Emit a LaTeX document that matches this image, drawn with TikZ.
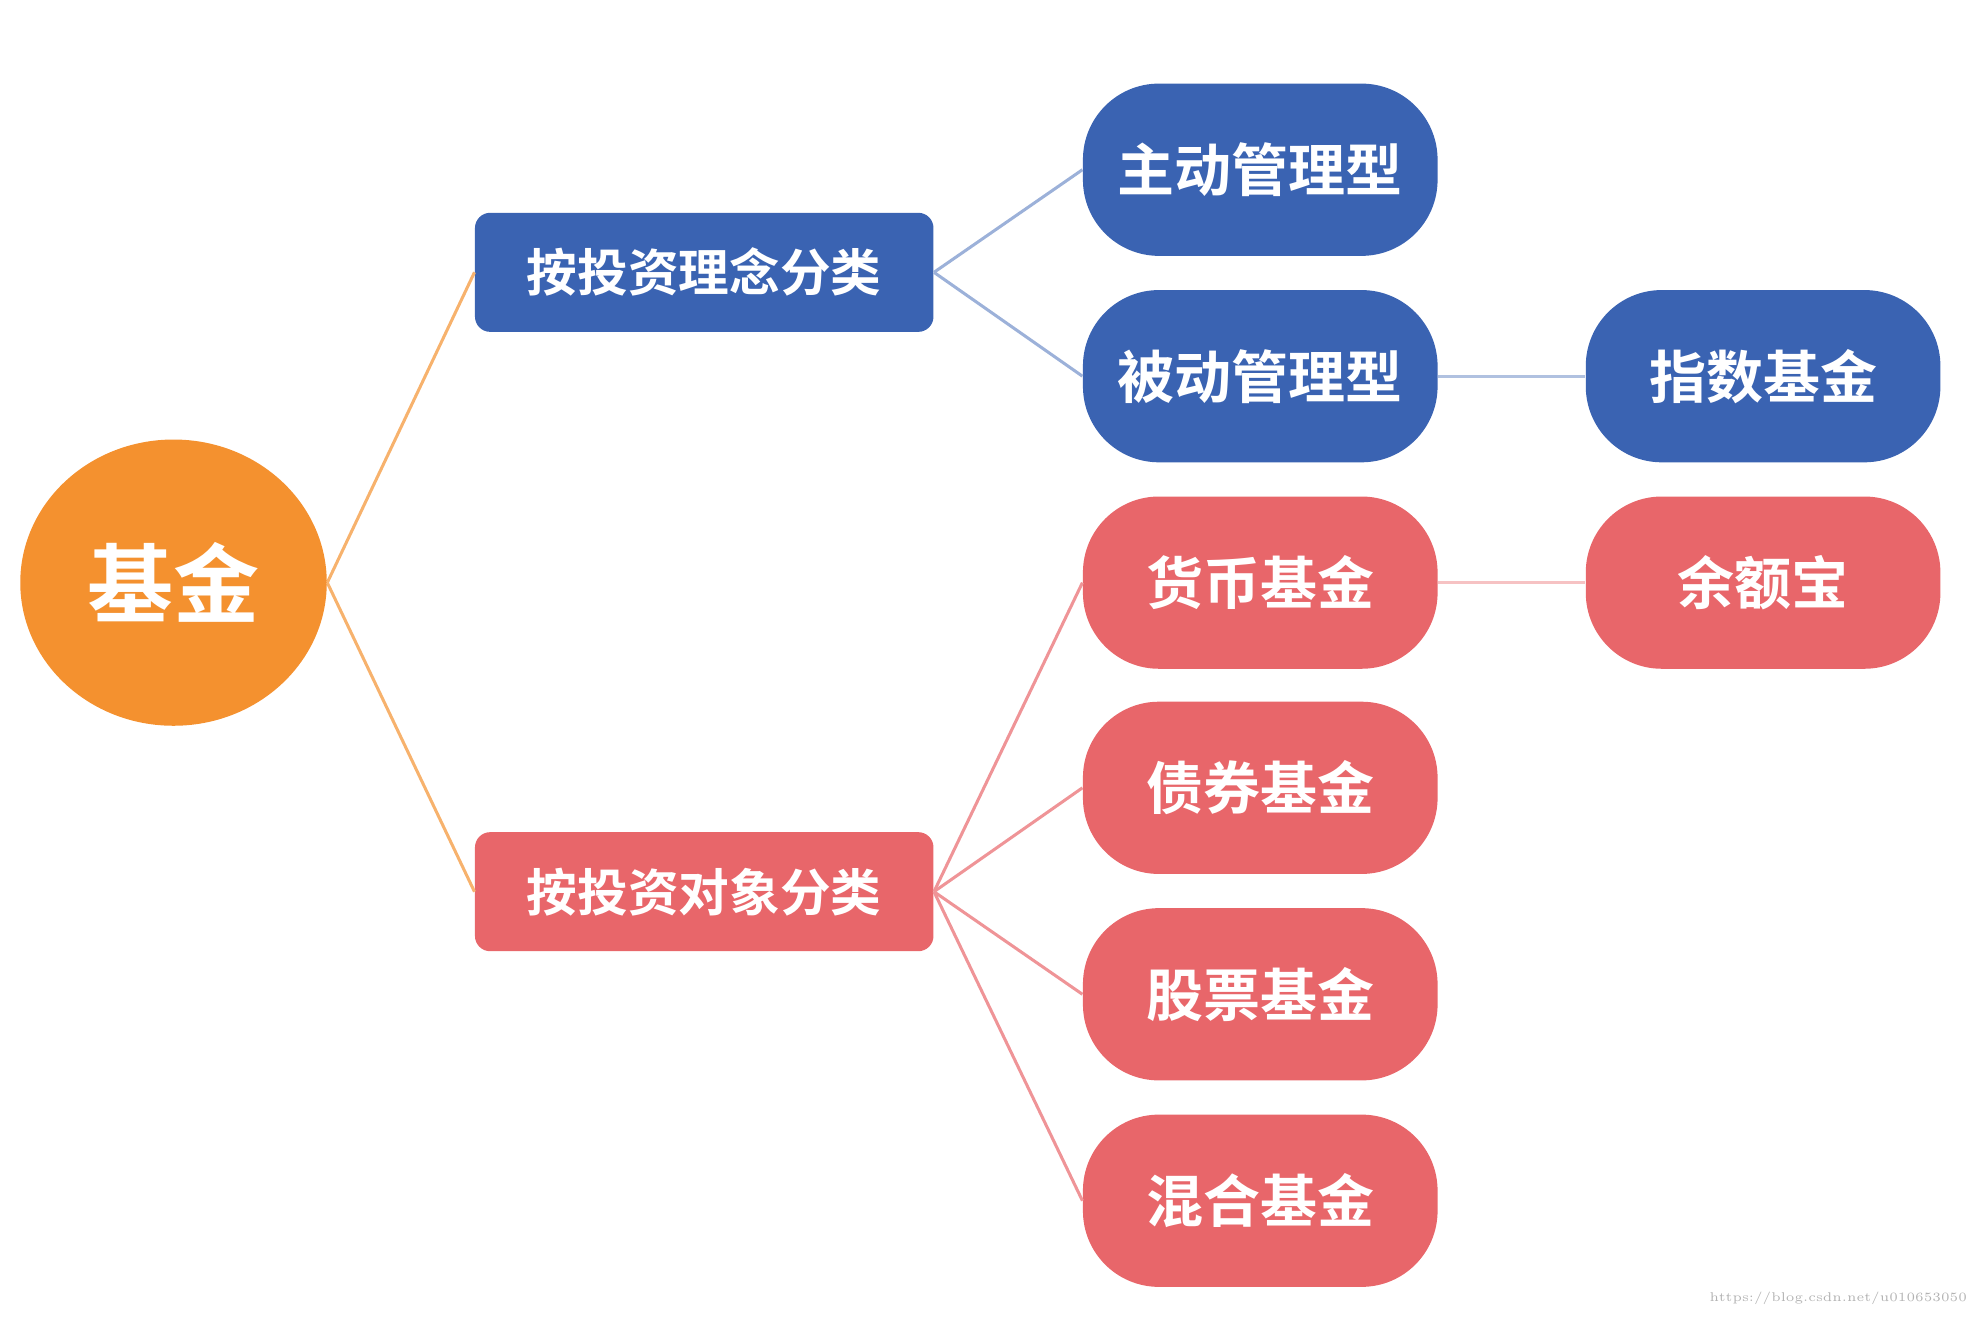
\documentclass[tikz,border=0pt]{standalone}
\usepackage{fontspec}
\usetikzlibrary{shapes.geometric}
\newfontfamily\cjk{Noto Sans CJK SC Bold}
\definecolor{bl}{HTML}{3A63B2}
\definecolor{rd}{HTML}{E8666A}
\definecolor{og}{HTML}{F4912F}
\begin{document}
\begin{tikzpicture}[x=0.5pt,y=-0.5pt,
 cat/.style={fill=#1,draw=none,rounded corners=6pt,minimum width=181pt,minimum height=47pt,text=white,font=\cjk\fontsize{20}{22}\selectfont,inner sep=0},
 pill/.style={fill=#1,draw=none,rounded corners=30pt,minimum width=140pt,minimum height=68pt,text=white,font=\cjk\fontsize{22.5}{24}\selectfont,inner sep=0},
 ln/.style={draw=#1,line width=1.2pt}]
\useasboundingbox (0,0) rectangle (1568,1040);
\node[ellipse,fill=og,minimum width=121pt,minimum height=113pt,text=white,font=\cjk\fontsize{34}{36}\selectfont,inner sep=0] (root) at (137,460) {基金};
\node[cat=bl] (a) at (556,215) {按投资理念分类};
\node[cat=rd] (b) at (556,704) {按投资对象分类};
\node[pill=bl] (a1) at (995,134) {主动管理型};
\node[pill=bl] (a2) at (995,297) {被动管理型};
\node[pill=bl] (a3) at (1392,297) {指数基金};
\node[pill=rd] (b1) at (995,460) {货币基金};
\node[pill=rd] (b2) at (995,622) {债券基金};
\node[pill=rd] (b3) at (995,785) {股票基金};
\node[pill=rd] (b4) at (995,948) {混合基金};
\node[pill=rd] (b5) at (1392,460) {余额宝};
\draw[ln=og!70] (root.east) -- (a.west);
\draw[ln=og!70] (root.east) -- (b.west);
\draw[ln=bl!50] (a.east) -- (a1.west);
\draw[ln=bl!50] (a.east) -- (a2.west);
\draw[ln=bl!40] (a2.east) -- (a3.west);
\foreach \t in {b1,b2,b3,b4} \draw[ln=rd!70] (b.east) -- (\t.west);
\draw[ln=rd!40] (b1.east) -- (b5.west);
\node[text=gray!60,font=\fontsize{5}{6}\selectfont,anchor=east] (wm) at (1560,1025) {https://blog.csdn.net/u010653050};
\end{tikzpicture}
\end{document}
